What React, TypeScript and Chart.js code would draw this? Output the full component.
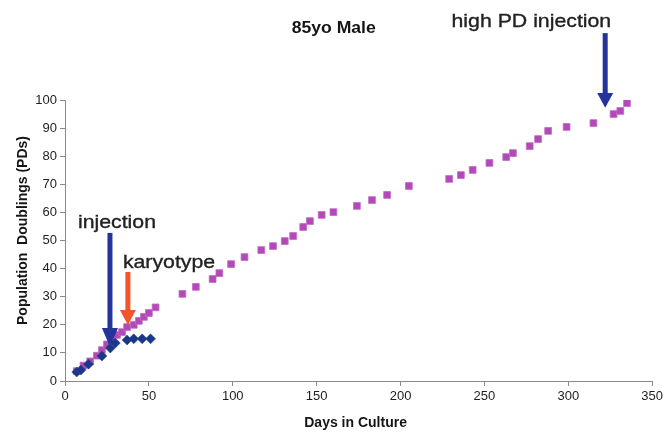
import React, { useEffect, useRef } from "react";
import { Chart, registerables } from "chart.js";

Chart.register(...registerables);

// ---- data ----
const pinkDays = [7, 11, 15, 19, 22, 25, 28, 31, 34, 37, 41, 44, 47, 50, 54, 70, 78, 88, 92, 99, 107, 117, 124, 131, 136, 142, 146, 153, 160, 174, 183, 192, 205, 229, 236, 243, 253, 263, 267, 277, 282, 288, 299, 315, 327, 331, 335];
const pinkPDs = [3.5, 5.5, 7, 9, 11, 13, 15.3, 16.4, 17.4, 19.2, 20, 21.4, 22.8, 24.2, 26.2, 31, 33.5, 36.3, 38.4, 41.6, 44.1, 46.6, 48, 49.8, 51.6, 54.8, 56.9, 59.1, 60.1, 62.3, 64.4, 66.2, 69.4, 71.9, 73.3, 75.1, 77.6, 79.7, 81.1, 83.6, 86.1, 89, 90.4, 91.8, 95, 96.1, 98.9];

const blueDays = [7, 9.5, 14, 22, 27, 30, 37, 41, 46, 51];
const bluePDs = [3.2, 3.9, 6, 8.9, 11.7, 13.5, 14.6, 15, 15, 15];

const xTickMax = 350;
const yTickMax = 100;

const titleText = "85yo Male";
const xTitle = "Days in Culture";
const yTitle = "Population  Doublings (PDs)";

// annotation arrows (data coordinates)
const arrowDays = [26.8, 37.5, 322];
const arrowTops = [52.7, 38.8, 123.8];
const arrowBases = [18.9, 25.3, 102.5];
const arrowTips = [12.1, 19.9, 97.2];
const arrowColors = ["#24349a", "#f2552a", "#24349a"];

// annotation labels (data coordinates, left edge / vertical middle)
const labelTexts = ["injection", "karyotype", "high PD injection"];
const labelDays = [7.7, 34.5, 230.4];
const labelPDs = [56.2, 42, 127.8];

const FONT = "'Liberation Sans', Arial, Helvetica, sans-serif";

function stretchedText(ctx: CanvasRenderingContext2D, text: string, x: number, y: number, sx: number, stroke: number) {
  ctx.save();
  ctx.translate(x, y);
  ctx.scale(sx, 1);
  ctx.fillText(text, 0, 0);
  if (stroke > 0) {
    ctx.lineWidth = stroke;
    ctx.strokeStyle = ctx.fillStyle as string;
    ctx.strokeText(text, 0, 0);
  }
  ctx.restore();
}

const annotationPlugin = {
  id: "annotations",
  afterDraw(chart: any) {
    const ctx: CanvasRenderingContext2D = chart.ctx;
    const xs = chart.scales.x;
    const ys = chart.scales.y;
    const area = chart.chartArea;
    ctx.save();

    // arrows
    for (let i = 0; i < arrowDays.length; i++) {
      const x = xs.getPixelForValue(arrowDays[i]);
      const top = ys.getPixelForValue(arrowTops[i]);
      const base = ys.getPixelForValue(arrowBases[i]);
      const tip = ys.getPixelForValue(arrowTips[i]);
      ctx.fillStyle = arrowColors[i];
      ctx.fillRect(x - 2.5, top, 5, base - top + 1);
      ctx.beginPath();
      ctx.moveTo(x - 8, base);
      ctx.lineTo(x + 8, base);
      ctx.lineTo(x, tip);
      ctx.closePath();
      ctx.fill();
    }

    // labels
    ctx.fillStyle = "#222222";
    ctx.font = `19px ${FONT}`;
    ctx.textBaseline = "middle";
    ctx.textAlign = "left";
    for (let i = 0; i < labelTexts.length; i++) {
      stretchedText(ctx, labelTexts[i], xs.getPixelForValue(labelDays[i]), ys.getPixelForValue(labelPDs[i]), 1.12, 0.35);
    }

    // title
    ctx.fillStyle = "#151515";
    ctx.font = `bold 16px ${FONT}`;
    stretchedText(ctx, titleText, xs.getPixelForValue(135.1), ys.getPixelForValue(125.4), 1.1, 0);

    // axis titles
    ctx.font = `bold 14px ${FONT}`;
    ctx.textAlign = "center";
    ctx.fillText(xTitle, (area.left + area.right) / 2 - 3, area.bottom + 42);
    ctx.save();
    ctx.translate(23, (area.top + area.bottom) / 2 - 10);
    ctx.rotate(-Math.PI / 2);
    ctx.fillText(yTitle, 0, 0);
    ctx.restore();

    ctx.restore();
  },
};

export default function App() {
  const canvasRef = useRef<HTMLCanvasElement | null>(null);

  useEffect(() => {
    const canvas = canvasRef.current;
    if (!canvas) return;
    const chart = new Chart(canvas, {
      type: "scatter",
      data: {
        datasets: [
          {
            label: "high PD",
            data: pinkDays.map((d, i) => ({ x: d, y: pinkPDs[i] })),
            pointStyle: "rect",
            pointRadius: 4.8,
            backgroundColor: "#b14ab6",
            borderColor: "#c469c8",
            borderWidth: 0.8,
            order: 2,
          },
          {
            label: "injected",
            data: blueDays.map((d, i) => ({ x: d, y: bluePDs[i] })),
            pointStyle: "rectRot",
            pointRadius: 5,
            backgroundColor: "#1b3888",
            borderColor: "#2a4596",
            borderWidth: 0.5,
            order: 1,
          },
        ],
      },
      options: {
        responsive: false,
        animation: false,
        layout: { padding: { top: 100, right: 13, bottom: 0, left: 0 } },
        plugins: {
          legend: { display: false },
          tooltip: { enabled: false },
          title: { display: false },
        },
        scales: {
          x: {
            type: "linear",
            min: 0,
            max: xTickMax,
            ticks: {
              stepSize: 50,
              color: "#1e1e1e",
              font: { family: FONT, size: 13 },
              padding: 3,
            },
            grid: { display: true, drawOnChartArea: false, drawTicks: true, tickLength: 5, color: "#8a8a8a" },
            border: { display: true, color: "#8a8a8a", width: 1 },
            afterFit: (s: any) => {
              s.height = 56;
            },
          },
          y: {
            type: "linear",
            min: 0,
            max: yTickMax,
            ticks: {
              stepSize: 10,
              color: "#1e1e1e",
              font: { family: FONT, size: 13 },
              padding: 3,
            },
            grid: { display: true, drawOnChartArea: false, drawTicks: true, tickLength: 5, color: "#8a8a8a" },
            border: { display: true, color: "#8a8a8a", width: 1 },
            afterFit: (s: any) => {
              s.width = 65;
            },
          },
        },
      },
      plugins: [annotationPlugin],
    });
    return () => chart.destroy();
  }, []);

  return (
    <div style={{ position: "fixed", left: 0, top: 0, width: 666, height: 437, background: "#fff" }}>
      <canvas ref={canvasRef} width={666} height={437} />
    </div>
  );
}
